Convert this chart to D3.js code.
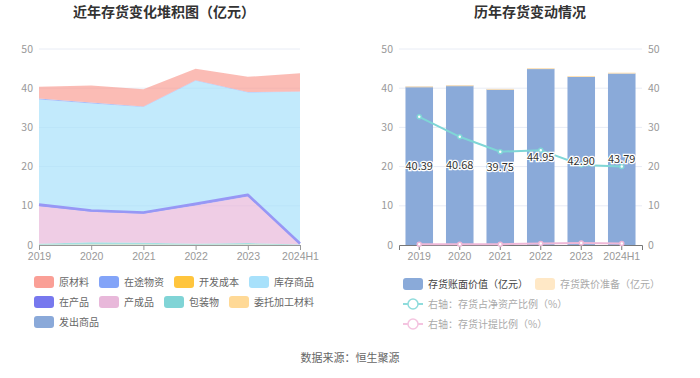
<!DOCTYPE html>
<html><head><meta charset="utf-8">
<script src="https://cdn.jsdelivr.net/npm/d3@7"></script>
<style>
body{margin:0;background:#fff;}
svg{display:block;font-family:"Noto Sans CJK SC","Noto Sans",sans-serif;}
</style></head><body>
<svg id="c" width="700" height="378"></svg>
<script>
const years = ["2019","2020","2021","2022","2023","2024H1"];
const seriesNames = ["原材料","在途物资","开发成本","库存商品","在产品","产成品","包装物","委托加工材料","发出商品"];
const seriesColors = ["#fa9f96","#83a4f8","#ffc53d","#a8e1fb","#7778ee","#e8b8da","#80d4d6","#ffd996","#8aa9d9"];
const rawMaterial = [3.04,4.33,4.40,2.95,3.90,4.64];
const inTransit = [0.25,0.25,0.15,0.10,0.10,0.05];
const devCost = [0,0,0,0,0,0];
const stockGoods = [26.8,27.3,26.9,31.4,26.1,38.7];
const wip = [0.4,0.3,0.3,0.4,0.4,0.3];
const finished = [9.6,7.8,7.4,9.8,11.9,0.0];
const packaging = [0.25,0.6,0.45,0.25,0.35,0.1];
const outsourced = [0.05,0.1,0.15,0.05,0.15,0.0];
const shipped = [0,0,0,0,0,0];
const seriesValues = [rawMaterial,inTransit,devCost,stockGoods,wip,finished,packaging,outsourced,shipped];

const bookValue = [40.39,40.68,39.75,44.95,42.90,43.79];
const provision = [0.08,0.08,0.08,0.17,0.21,0.18];
const ratioNetAsset = [32.7,27.6,23.8,24.2,20.4,20.0];
const ratioProvision = [0.2,0.2,0.2,0.4,0.5,0.4];
const yTicks = [0,10,20,30,40,50];
const sourceText = "数据来源：恒生聚源";

const svg = d3.select("#c");
const axisColor = "#999", gridColor = "#e8ecf5", labelColor = "#999";

// ---------- Left chart ----------
const L = {x0:39, x1:300, y0:245, y1:49};
const xL = d3.scalePoint().domain(years).range([L.x0, L.x1]);
const yL = d3.scaleLinear().domain([0,50]).range([L.y0, L.y1]);

svg.append("text").attr("x",164).attr("y",17).attr("text-anchor","middle")
  .attr("font-size",14).attr("font-weight","bold").attr("fill","#333").text("近年存货变化堆积图（亿元）");

const gL = svg.append("g");
gL.selectAll("line.grid").data(yTicks.filter(d=>d>0)).join("line")
  .attr("x1",L.x0).attr("x2",L.x1).attr("y1",d=>yL(d)).attr("y2",d=>yL(d))
  .attr("stroke",gridColor).attr("stroke-width",1);

// stack bottom-to-top in reverse legend order
const order = seriesNames.map((n,i)=>i).reverse();
const table = years.map((y,j)=>{const o={year:y}; seriesNames.forEach((n,i)=>o[n]=seriesValues[i][j]); return o;});
const stack = d3.stack().keys(order.map(i=>seriesNames[i]));
const stacked = stack(table);
const area = d3.area().x((d,j)=>xL(years[j])).y0(d=>yL(d[0])).y1(d=>yL(d[1]));
const topLine = d3.line().x((d,j)=>xL(years[j])).y(d=>yL(d[1]));
stacked.forEach(s=>{
  const idx = seriesNames.indexOf(s.key);
  gL.append("path").datum(s).attr("d",area).attr("fill",seriesColors[idx]).attr("fill-opacity",0.7);
});
// emphasised boundary line of 在产品
const wipStack = stacked.find(s=>s.key==="在产品");
gL.append("path").datum(wipStack).attr("d",topLine).attr("fill","none")
  .attr("stroke","#9797f5").attr("stroke-width",2.6).attr("stroke-linejoin","round");

const axL = gL.append("g").attr("transform",`translate(0,${L.y0})`)
  .call(d3.axisBottom(xL).tickSize(5).tickPadding(3));
axL.select(".domain").attr("stroke",axisColor);
axL.selectAll(".tick line").attr("stroke",axisColor);
axL.selectAll("text").attr("fill",labelColor).attr("font-size",10.5).attr("font-family","inherit");

gL.selectAll("text.yl").data(yTicks).join("text").attr("class","yl")
  .attr("x",33).attr("y",d=>yL(d)).attr("dy","0.35em").attr("text-anchor","end")
  .attr("fill",labelColor).attr("font-size",10.5).text(d=>d);

// left legend
(function(){
  const g = svg.append("g");
  let x = 34, y = 282;
  seriesNames.forEach((n,i)=>{
    const it = g.append("g");
    it.append("rect").attr("x",0).attr("y",-6).attr("width",20).attr("height",12).attr("rx",3).attr("fill",seriesColors[i]);
    const t = it.append("text").attr("x",25).attr("y",0).attr("dy","0.35em").attr("font-size",10).attr("fill","#666").text(n);
    const w = 25 + t.node().getComputedTextLength();
    if (x + w > 315) { x = 34; y += 20; }
    it.attr("transform",`translate(${x},${y})`);
    x += w + 10;
  });
})();

// ---------- Right chart ----------
const R = {x0:399, x1:642, y0:245, y1:49};
const xR = d3.scaleBand().domain(years).range([R.x0, R.x1]).paddingInner(0.32).paddingOuter(0.16);
const xRc = d => xR(d) + xR.bandwidth()/2;
const yR = d3.scaleLinear().domain([0,50]).range([R.y0, R.y1]);
const yR2 = d3.scaleLinear().domain([0,50]).range([R.y0, R.y1]);

svg.append("text").attr("x",530).attr("y",17).attr("text-anchor","middle")
  .attr("font-size",14).attr("font-weight","bold").attr("fill","#333").text("历年存货变动情况");

const gR = svg.append("g");
gR.selectAll("line.grid").data(yTicks.filter(d=>d>0)).join("line")
  .attr("x1",R.x0).attr("x2",R.x1).attr("y1",d=>yR(d)).attr("y2",d=>yR(d))
  .attr("stroke",gridColor).attr("stroke-width",1);

gR.selectAll("rect.bv").data(bookValue).join("rect").attr("class","bv")
  .attr("x",(d,i)=>xR(years[i])).attr("width",xR.bandwidth())
  .attr("y",d=>yR(d)).attr("height",d=>yR(0)-yR(d)).attr("fill","#8aaad9");
gR.selectAll("rect.pv").data(provision).join("rect").attr("class","pv")
  .attr("x",(d,i)=>xR(years[i])).attr("width",xR.bandwidth())
  .attr("y",(d,i)=>yR(bookValue[i]+d)).attr("height",(d,i)=>Math.max(1,yR(bookValue[i])-yR(bookValue[i]+d))).attr("fill","#ffe2b6");

const axR = gR.append("g").attr("transform",`translate(0,${R.y0})`)
  .call(d3.axisBottom(xR).tickSize(5).tickPadding(3));
axR.select(".domain").attr("stroke","#777");
axR.selectAll(".tick line").attr("stroke","#777");
axR.selectAll("text").attr("fill",labelColor).attr("font-size",10.5).attr("font-family","inherit");

gR.selectAll("text.yl").data(yTicks).join("text").attr("class","yl")
  .attr("x",393).attr("y",d=>yR(d)).attr("dy","0.35em").attr("text-anchor","end")
  .attr("fill",labelColor).attr("font-size",10.5).text(d=>d);
gR.selectAll("text.yr").data(yTicks).join("text").attr("class","yr")
  .attr("x",648).attr("y",d=>yR2(d)).attr("dy","0.35em").attr("text-anchor","start")
  .attr("fill",labelColor).attr("font-size",10.5).text(d=>d);

const line = d3.line().x((d,i)=>xRc(years[i])).y(d=>yR2(d));
function drawLine(vals,color){
  gR.append("path").datum(vals).attr("d",line).attr("fill","none").attr("stroke",color).attr("stroke-width",2);
  gR.selectAll(null).data(vals).join("circle").attr("cx",(d,i)=>xRc(years[i])).attr("cy",d=>yR2(d))
    .attr("r",2).attr("fill","#fff").attr("stroke",color).attr("stroke-width",1.5);
}
drawLine(ratioProvision,"#efb8d8");
drawLine(ratioNetAsset,"#7fd6d6");

gR.selectAll("text.bl").data(bookValue).join("text").attr("class","bl")
  .attr("x",(d,i)=>xRc(years[i])).attr("y",d=>yR(d/2)).attr("dy","0.35em").attr("text-anchor","middle")
  .attr("font-size",11).attr("fill","#333").attr("stroke","#fff").attr("stroke-width",2.5)
  .attr("paint-order","stroke").text(d=>d.toFixed(2));

// right legend
(function(){
  const g = svg.append("g");
  g.append("rect").attr("x",403).attr("y",278).attr("width",20).attr("height",12).attr("rx",3).attr("fill","#8aaad9");
  g.append("text").attr("x",428).attr("y",284).attr("dy","0.35em").attr("font-size",10).attr("fill","#444").text("存货账面价值（亿元）");
  g.append("rect").attr("x",535).attr("y",278).attr("width",20).attr("height",12).attr("rx",3).attr("fill","#ffe8c6");
  g.append("text").attr("x",560).attr("y",284).attr("dy","0.35em").attr("font-size",10).attr("fill","#aaa").text("存货跌价准备（亿元）");
  const items = [["右轴：存货占净资产比例（%）","#8fdcdc",304],["右轴：存货计提比例（%）","#f4c4e0",324]];
  items.forEach(([t,c,y])=>{
    g.append("line").attr("x1",403).attr("x2",423).attr("y1",y).attr("y2",y).attr("stroke",c).attr("stroke-width",2);
    g.append("circle").attr("cx",413).attr("cy",y).attr("r",5).attr("fill","#fff").attr("stroke",c).attr("stroke-width",1.5);
    g.append("text").attr("x",428).attr("y",y).attr("dy","0.35em").attr("font-size",10).attr("fill","#aaa").text(t);
  });
})();

svg.append("text").attr("x",350).attr("y",362).attr("text-anchor","middle")
  .attr("font-size",11).attr("fill","#666").text(sourceText);
</script>
</body></html>
